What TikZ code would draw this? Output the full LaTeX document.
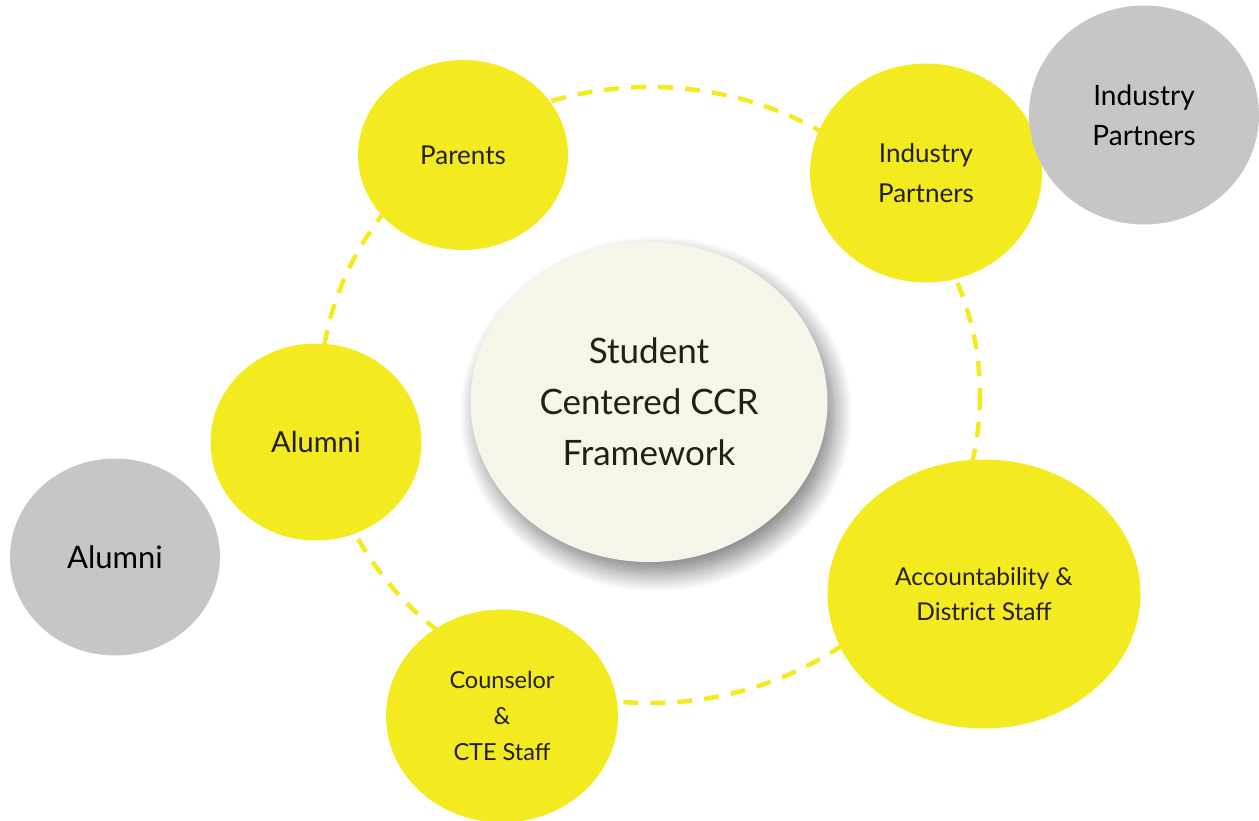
\documentclass[tikz,border=0pt]{standalone}
\usepackage{fontspec}
\setmainfont{Lato}
\usetikzlibrary{shapes.geometric,shadows.blur}
\definecolor{cyellow}{HTML}{F3EB1F}
\definecolor{cgray}{HTML}{C6C6C6}
\definecolor{ccream}{HTML}{F7F5EA}
\definecolor{ctext}{HTML}{231F14}
\tikzset{
  bubble/.style={ellipse, inner sep=0pt, align=center, text=ctext},
  yel/.style={bubble, fill=cyellow},
  gry/.style={bubble, fill=cgray, text=black},
  ring/.style={draw=cyellow, line width=4.5pt, dash pattern=on 15pt off 12pt},
}
\begin{document}
\begin{tikzpicture}[x=1pt,y=-1pt]
\useasboundingbox (0,0) rectangle (1259,821);
% dashed ring
\coordinate (rc) at (650,395);
\draw[ring] (rc) ellipse [x radius=330, y radius=308];
% center
\node[bubble, fill=ccream, minimum width=357, minimum height=320,
  blur shadow={shadow xshift=7pt, shadow yshift=-12pt, shadow blur radius=18pt, shadow blur steps=14, shadow opacity=50},
  font=\fontsize{35}{51}\selectfont] (center) at (649,402) {\raisebox{0pt}{Student}\\Centered CCR\\Framework};
\node[yel, minimum width=210, minimum height=190, font=\fontsize{26}{36}\selectfont] (parents) at (463,155) {Parents};
\node[yel, minimum width=232, minimum height=219, font=\fontsize{26}{40}\selectfont] (industry) at (926,173) {Industry\\Partners};
\node[yel, minimum width=211, minimum height=197, font=\fontsize{29}{36}\selectfont] (alumni) at (316,442) {Alumni};
\node[yel, minimum width=313, minimum height=269, font=\fontsize{24.5}{35}\selectfont] (account) at (984,594) {Accountability \&\\District Staff};
\node[yel, minimum width=232, minimum height=213, font=\fontsize{23.5}{36}\selectfont] (counsel) at (502,716) {Counselor\\\&\\CTE Staff};
% gray bubbles
\node[gry, minimum width=230, minimum height=219, font=\fontsize{28}{40}\selectfont] (industryg) at (1144,115) {Industry\\Partners};
\node[gry, minimum width=210, minimum height=197, font=\fontsize{31}{36}\selectfont] (alumnig) at (115,557) {Alumni};
\end{tikzpicture}
\end{document}
